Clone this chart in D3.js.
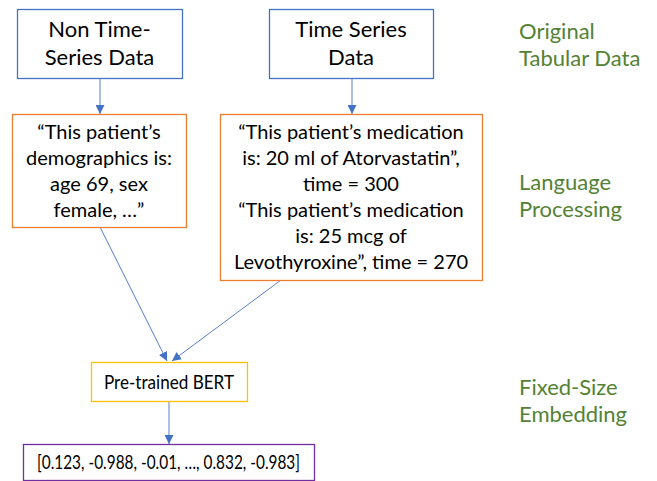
<!DOCTYPE html>
<html>
<head>
<meta charset="utf-8">
<script src="https://d3js.org/d3.v7.min.js"></script>
<style>
  body { margin: 0; background: #fff; }
  text { font-family: Lato, "Open Sans", sans-serif; }
</style>
</head>
<body>
<div class="chart"></div>
<script>
// node labels (one entry per text line)
var sourceLabels = [["Non Time-", "Series Data"], ["Time Series", "Data"]];
var sentenceLabels = [
  ["\u201cThis patient\u2019s", "demographics is:", "age 69, sex", "female, \u2026\u201d"],
  ["\u201cThis patient\u2019s medication", "is: 20 ml of Atorvastatin\u201d,", "time = 300",
   "\u201cThis patient\u2019s medication", "is: 25 mcg of", "Levothyroxine\u201d, time = 270"]
];
var modelLabel = ["Pre-trained BERT"];
var embeddingLabel = ["[0.123, -0.988, -0.01, \u2026, 0.832, -0.983]"];
var stageLabels = [["Original", "Tabular Data"], ["Language", "Processing"], ["Fixed-Size", "Embedding"]];

var svgWidth = 657;
var svgHeight = 481;

var svg = d3.select(".chart")
  .append("svg")
  .attr("width", svgWidth)
  .attr("height", svgHeight);

// arrowhead
svg.append("defs").append("marker")
  .attr("id", "arrow")
  .attr("viewBox", "0 0 10 10")
  .attr("refX", 10)
  .attr("refY", 5)
  .attr("markerWidth", 9)
  .attr("markerHeight", 9)
  .attr("markerUnits", "userSpaceOnUse")
  .attr("orient", "auto")
  .append("path")
  .attr("d", "M0,0 L10,5 L0,10 z")
  .attr("fill", "#4472C4");

// layout of the boxes
var nodes = [
  {id: "src0", lines: sourceLabels[0], x0: 17, x1: 182, y0: 9, y1: 78, color: "#4472C4", size: 22, lh: 28},
  {id: "src1", lines: sourceLabels[1], x0: 269, x1: 433, y0: 9, y1: 78, color: "#4472C4", size: 22, lh: 28},
  {id: "txt0", lines: sentenceLabels[0], x0: 12, x1: 186, y0: 114, y1: 227, color: "#ED7D31", size: 20, lh: 26},
  {id: "txt1", lines: sentenceLabels[1], x0: 220, x1: 482, y0: 114, y1: 280, color: "#ED7D31", size: 20, lh: 26},
  {id: "bert", lines: modelLabel, x0: 91, x1: 247, y0: 362, y1: 401, color: "#FFC000", size: 20, lh: 26, fit: 130},
  {id: "emb", lines: embeddingLabel, x0: 23, x1: 314, y0: 444, y1: 480, color: "#7030A0", size: 19, lh: 26, fit: 263}
];

var links = [
  {x1: 100, y1: 78, x2: 100, y2: 114},
  {x1: 352, y1: 78, x2: 352, y2: 114},
  {x1: 100, y1: 227, x2: 167, y2: 361},
  {x1: 281, y1: 280, x2: 172, y2: 361},
  {x1: 169, y1: 401, x2: 169, y2: 444}
];

svg.selectAll("line.link")
  .data(links)
  .enter()
  .append("line")
  .classed("link", true)
  .attr("x1", d => d.x1)
  .attr("y1", d => d.y1)
  .attr("x2", d => d.x2)
  .attr("y2", d => d.y2)
  .attr("stroke", "#4472C4")
  .attr("stroke-width", 0.9)
  .attr("marker-end", "url(#arrow)");

var nodeGroup = svg.selectAll("g.node")
  .data(nodes)
  .enter()
  .append("g")
  .classed("node", true);

nodeGroup.append("rect")
  .attr("x", d => d.x0 + 0.5)
  .attr("y", d => d.y0 + 0.5)
  .attr("width", d => d.x1 - d.x0)
  .attr("height", d => d.y1 - d.y0)
  .attr("fill", "#fff")
  .attr("stroke", d => d.color)
  .attr("stroke-width", 1.3);

nodeGroup.append("text")
  .attr("text-anchor", "middle")
  .style("font-size", d => d.size + "px")
  .attr("fill", "#000")
  .each(function(d) {
    var cx = (d.x0 + d.x1) / 2;
    var cy = (d.y0 + d.y1) / 2;
    var top = cy - (d.lines.length - 1) * d.lh / 2;
    var spans = d3.select(this).selectAll("tspan")
      .data(d.lines)
      .enter()
      .append("tspan")
      .attr("x", cx)
      .attr("y", (l, i) => top + i * d.lh)
      .attr("dy", "0.35em")
      .text(l => l);
    if (d.fit) {
      // this font runs wider than the original, squeeze the line to the box
      spans.attr("textLength", d.fit).attr("lengthAdjust", "spacingAndGlyphs");
    }
  });

// stage captions on the right
var stageY = [44, 195, 400];
svg.selectAll("text.stage")
  .data(stageLabels)
  .enter()
  .append("text")
  .classed("stage", true)
  .style("font-size", "22px")
  .attr("fill", "#548235")
  .each(function(d, i) {
    d3.select(this).selectAll("tspan")
      .data(d)
      .enter()
      .append("tspan")
      .attr("x", 519)
      .attr("y", (l, j) => stageY[i] - 13 + j * 27)
      .attr("dy", "0.35em")
      .text(l => l);
  });
</script>
</body>
</html>
